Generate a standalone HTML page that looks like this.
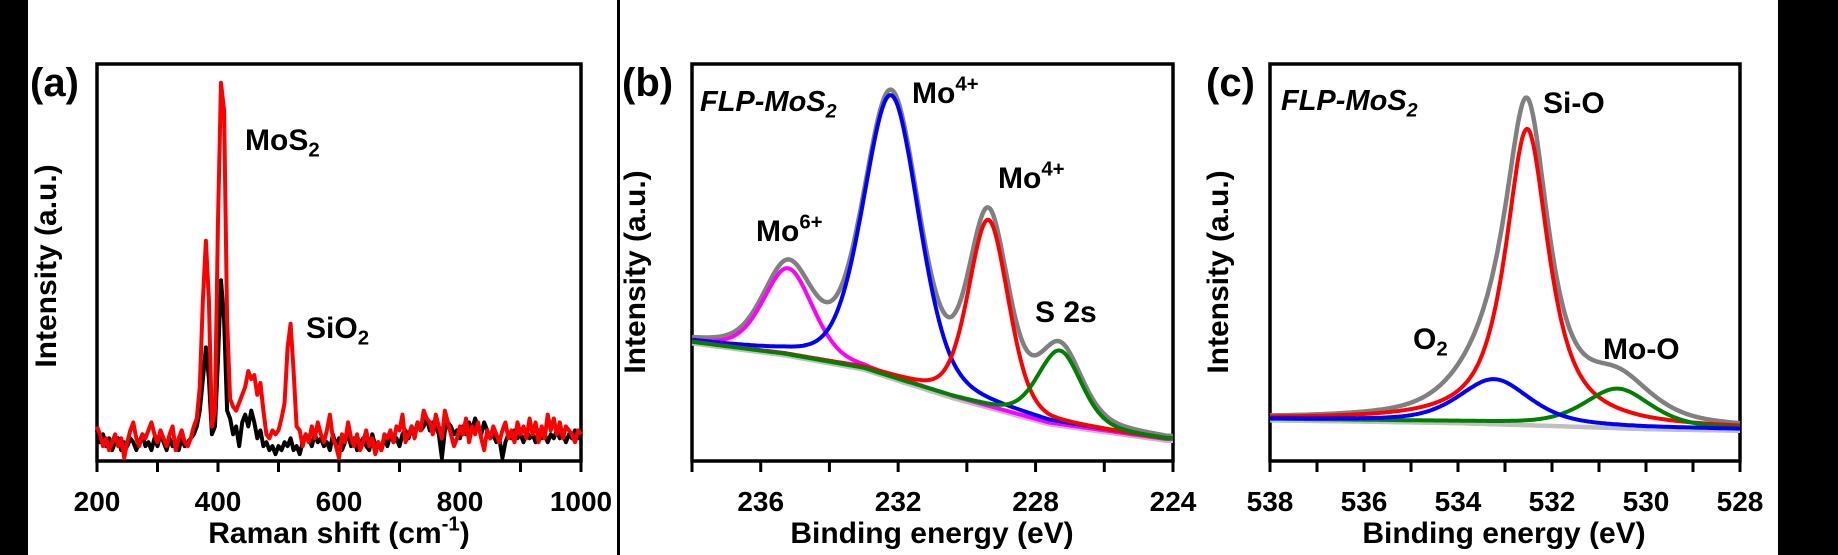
<!DOCTYPE html>
<html><head><meta charset="utf-8"><style>
html,body{margin:0;padding:0;background:#fff;}
svg{display:block;font-family:"Liberation Sans",Arial,sans-serif;font-weight:bold;}
</style></head><body>
<svg id="fig" width="1838" height="555" viewBox="0 0 1838 555" xmlns="http://www.w3.org/2000/svg">
<rect x="0" y="0" width="28" height="555" fill="#000"/>
<rect x="1778" y="0" width="60" height="555" fill="#000"/>
<rect x="617" y="0" width="3" height="555" fill="#000"/>
<g id="layer"></g>
</svg>
<script>
// ---------- Panel (a) Raman data ----------
const ramanStart = 200;
const ramanStep = 5;
const ramanRed = [8,6,3,5,2,4,6,3,5,0,4,7,9,5,3,6,5,7,9,6,4,7,5,3,6,8,2,5,7,4,3,5,8,10,18,40,55,40,8,12,60,95,88,35,15,13,12,14,16,18,22,20,21,16,19,12,6,5,7,6,7,10,14,28,34,22,8,7,3,6,4,8,5,9,6,4,7,11,5,3,0,6,4,9,5,3,6,2,4,7,3,5,1,4,2,6,5,7,4,8,7,11,4,6,8,5,9,7,12,10,9,6,11,8,5,12,9,6,3,5,8,6,10,4,8,6,9,5,2,7,5,8,6,4,7,9,5,7,4,9,6,8,5,10,6,9,4,8,5,11,7,10,6,9,5,8,7,6,4,7,6];
const ramanBlack = [7,4,6,3,5,2,4,5,2,4,3,5,4,2,4,6,3,4,2,5,3,6,4,2,5,3,4,2,5,3,4,5,6,8,12,20,28,20,6,8,25,45,35,12,10,6,8,3,9,11,8,12,9,5,7,3,4,2,3,1,3,2,4,3,5,2,3,1,4,6,5,3,6,4,5,3,4,2,6,3,5,2,4,6,3,5,2,4,5,3,2,6,3,4,2,5,3,6,4,5,3,6,7,5,8,6,9,7,8,10,7,9,8,6,0,7,9,8,6,7,5,8,6,9,7,10,8,6,9,7,5,6,4,5,0,4,6,5,7,5,6,4,7,5,6,4,7,5,6,4,6,5,7,5,6,4,6,5,7,5,6];
const ramanTicks = [200,300,400,500,600,700,800,900,1000];
const ramanTickLabels = ["200","","400","","600","","800","","1000"];

// ---------- Panel (b) Mo 3d XPS ----------
const bBgE = [238,235.3,233.0,231.9,230.4,229.3,227.6,224.2];
const bBgI = [30.0,27.0,23.4,20.3,16.2,13.6,9.6,5.5];
const bPeakNames = ["mo6","mo4-3d52","mo4-3d32","s2s"];
const bPeakCenters = [235.2,232.2,229.37,227.3];
const bPeakHeights = [21.7,71,47,18.6];
const bPeakFwhm = [1.7,1.9,1.37,1.5];
const bPeakEta = [0.3,0.3,0.3,0.3];
const bPeakColors = ["#ff00ff","#0000ff","#ff0000","#008000"];
const bDrawOrder = [0,1,2,3];
const bTicks = [238,236,234,232,230,228,226,224];
const bTickLabels = ["","236","","232","","228","","224"];

// ---------- Panel (c) O 1s XPS ----------
const cBgE = [538,536,534,532,530,528];
const cBgI = [10.6,10.3,9.9,9.2,8.4,8.0];
const cPeakNames = ["o2","si-o","mo-o"];
const cPeakCenters = [533.23,532.53,530.6];
const cPeakHeights = [11,74.3,9.6];
const cPeakFwhm = [1.77,1.1,1.68];
const cPeakEta = [0.5,0.85,0.5];
const cPeakColors = ["#0000ff","#ff0000","#008000"];
const cDrawOrder = [1,2,0];
const cTicks = [538,537,536,535,534,533,532,531,530,529,528];
const cTickLabels = ["538","","536","","534","","532","","530","","528"];

const NS = "http://www.w3.org/2000/svg";
const layer = document.getElementById("layer");
function mk(tag, attrs, parent){
  const e = document.createElementNS(NS, tag);
  for (const k in attrs) e.setAttribute(k, attrs[k]);
  (parent||layer).appendChild(e);
  return e;
}
function lin(d0,d1,r0,r1){ return v => r0 + (v-d0)/(d1-d0)*(r1-r0); }
function interp(xs, ys, x){
  const asc = xs[0] < xs[xs.length-1];
  for (let i=0;i<xs.length-1;i++){
    const a=xs[i], b=xs[i+1];
    if ((asc && x>=a && x<=b) || (!asc && x<=a && x>=b)) return ys[i]+(x-a)/(b-a)*(ys[i+1]-ys[i]);
  }
  return (asc ? (x<xs[0]) : (x>xs[0])) ? ys[0] : ys[ys.length-1];
}
function pv(x,c,h,w,eta){
  const t=(x-c)/w;
  return h*(eta/(1+4*t*t)+(1-eta)*Math.exp(-4*Math.LN2*t*t));
}
function pathFrom(pts){ return pts.map((p,i)=>(i?"L":"M")+p[0].toFixed(1)+" "+p[1].toFixed(1)).join(""); }

function axes(cfg){
  const {left,right,top,bottom,ticks,labels,xs,name} = cfg;
  const frame = mk("rect",{x:left,y:top,width:right-left,height:bottom-top,fill:"none",stroke:"#000","stroke-width":3.5});
  
  
  ticks.forEach((t,i)=>{
    const x = xs(t);
    const tk = mk("line",{x1:x,x2:x,y1:bottom,y2:bottom+11,stroke:"#000","stroke-width":3});
    
    
    if (labels[i]){
      const tl = mk("text",{x:x,y:511,"text-anchor":"middle","font-size":28,fill:"#000"});
      tl.textContent = labels[i];
      
      
    }
  });
}
function text(x,y,str,size,name,opts){
  const t = mk("text",Object.assign({x:x,y:y,"font-size":size,fill:"#000"},opts||{}));
  t.textContent = str;
  
  
  return t;
}
function rich(x,y,parts,size,name,opts){
  const t = mk("text",Object.assign({x:x,y:y,"font-size":size,fill:"#000"},opts||{}));
  
  
  parts.forEach(p=>{
    const s = mk("tspan",{}, t);
    if (p.sub){ s.setAttribute("font-size", size*0.68); s.setAttribute("dy", size*0.22); }
    if (p.sup){ s.setAttribute("font-size", size*0.68); s.setAttribute("dy", -size*0.42); }
    if (p.back){ s.setAttribute("dy", p.back); }
    s.textContent = p.t;
  });
  return t;
}
function ytitle(cx,cy,name){
  return text(0,0,"Intensity (a.u.)",30,name,{"text-anchor":"middle",transform:`translate(${cx},${cy}) rotate(-90)`});
}

// ===== Panel (a) =====
(function(){
  const xs = lin(200,1000,97,581);
  const ys = v => 458 - v*3.95;
  axes({left:97,right:581,top:64,bottom:461,ticks:ramanTicks,labels:ramanTickLabels,xs:xs,name:"raman"});
  const pb = ramanBlack.map((v,i)=>[xs(ramanStart+i*ramanStep), ys(v)]);
  const lb = mk("path",{d:pathFrom(pb),fill:"none",stroke:"#000","stroke-width":4,"stroke-linejoin":"round"});
  
  
  const pr = ramanRed.map((v,i)=>[xs(ramanStart+i*ramanStep), ys(v)]);
  const lr = mk("path",{d:pathFrom(pr),fill:"none",stroke:"#ff0000","stroke-width":4,"stroke-linejoin":"round"});
  
  
  text(30,96,"(a)",40,"panel-a-label");
  rich(245,150,[{t:"MoS"},{t:"2",sub:true}],30,"mos2-annotation");
  rich(306,338,[{t:"SiO"},{t:"2",sub:true}],30,"sio2-annotation");
  ytitle(56,266,"raman-y-axis-title");
  rich(339,543,[{t:"Raman shift (cm"},{t:"-1",sup:true},{t:")",back:30*0.42}],30,"raman-x-axis-title",{"text-anchor":"middle"});
})();

// ===== XPS panel builder =====
function xpsPanel(P){
  const xs = lin(P.e0,P.e1,P.left,P.right);
  const ys = v => 461 - v*3.97;
  axes({left:P.left,right:P.right,top:64,bottom:461,ticks:P.ticks,labels:P.labels,xs:xs,name:P.name});
  const N = 300, E = [];
  for (let i=0;i<=N;i++) E.push(P.e0 + (P.e1-P.e0)*i/N);
  const bg = E.map(e=>interp(P.bgE,P.bgI,e));
  const env = E.map((e,i)=>{ let s=bg[i]; P.centers.forEach((c,k)=>{ s+=pv(e,c,P.heights[k],P.fwhm[k],P.eta[k]); }); return [xs(e),ys(s)]; });
  const le = mk("path",{d:pathFrom(env),fill:"none",stroke:"#808080","stroke-width":4.5,"stroke-linejoin":"round"});
  
  
  const lbg = mk("path",{d:pathFrom(E.map((e,i)=>[xs(e),ys(bg[i])+1.5])),fill:"none",stroke:"#c0c0c0","stroke-width":4.5});
  
  
  P.order.forEach(k=>{
    const c = P.centers[k];
    const pts = E.map((e,i)=>[xs(e), ys(bg[i]+pv(e,c,P.heights[k],P.fwhm[k],P.eta[k]))]);
    const l = mk("path",{d:pathFrom(pts),fill:"none",stroke:P.colors[k],"stroke-width":4,"stroke-linejoin":"round"});
    
    
  });
}

// ===== Panel (b) =====
xpsPanel({name:"mo3d",e0:238,e1:224,left:692,right:1173,ticks:bTicks,labels:bTickLabels,bgE:bBgE,bgI:bBgI,names:bPeakNames,centers:bPeakCenters,heights:bPeakHeights,fwhm:bPeakFwhm,eta:bPeakEta,colors:bPeakColors,order:bDrawOrder});
text(622,96,"(b)",40,"panel-b-label");
rich(700,111,[{t:"FLP-MoS"},{t:"2",sub:true}],29,"sample-name-b",{"font-style":"italic"});
rich(912,103,[{t:"Mo"},{t:"4+",sup:true}],30,"mo4-annotation-1");
rich(998,188,[{t:"Mo"},{t:"4+",sup:true}],30,"mo4-annotation-2");
rich(756,241,[{t:"Mo"},{t:"6+",sup:true}],30,"mo6-annotation");
text(1035,322,"S 2s",30,"s2s-annotation");
ytitle(645,272,"mo3d-y-axis-title");
text(932,543,"Binding energy (eV)",30,"mo3d-x-axis-title",{"text-anchor":"middle"});

// ===== Panel (c) =====
xpsPanel({name:"o1s",e0:538,e1:528,left:1270,right:1740,ticks:cTicks,labels:cTickLabels,bgE:cBgE,bgI:cBgI,names:cPeakNames,centers:cPeakCenters,heights:cPeakHeights,fwhm:cPeakFwhm,eta:cPeakEta,colors:cPeakColors,order:cDrawOrder});
text(1206,96,"(c)",40,"panel-c-label");
rich(1281,110,[{t:"FLP-MoS"},{t:"2",sub:true}],29,"sample-name-c",{"font-style":"italic"});
text(1543,113,"Si-O",30,"si-o-annotation");
rich(1413,349,[{t:"O"},{t:"2",sub:true}],30,"o2-annotation");
text(1603,359,"Mo-O",30,"mo-o-annotation");
ytitle(1228,272,"o1s-y-axis-title");
text(1504,543,"Binding energy (eV)",30,"o1s-x-axis-title",{"text-anchor":"middle"});
</script>
</body></html>
